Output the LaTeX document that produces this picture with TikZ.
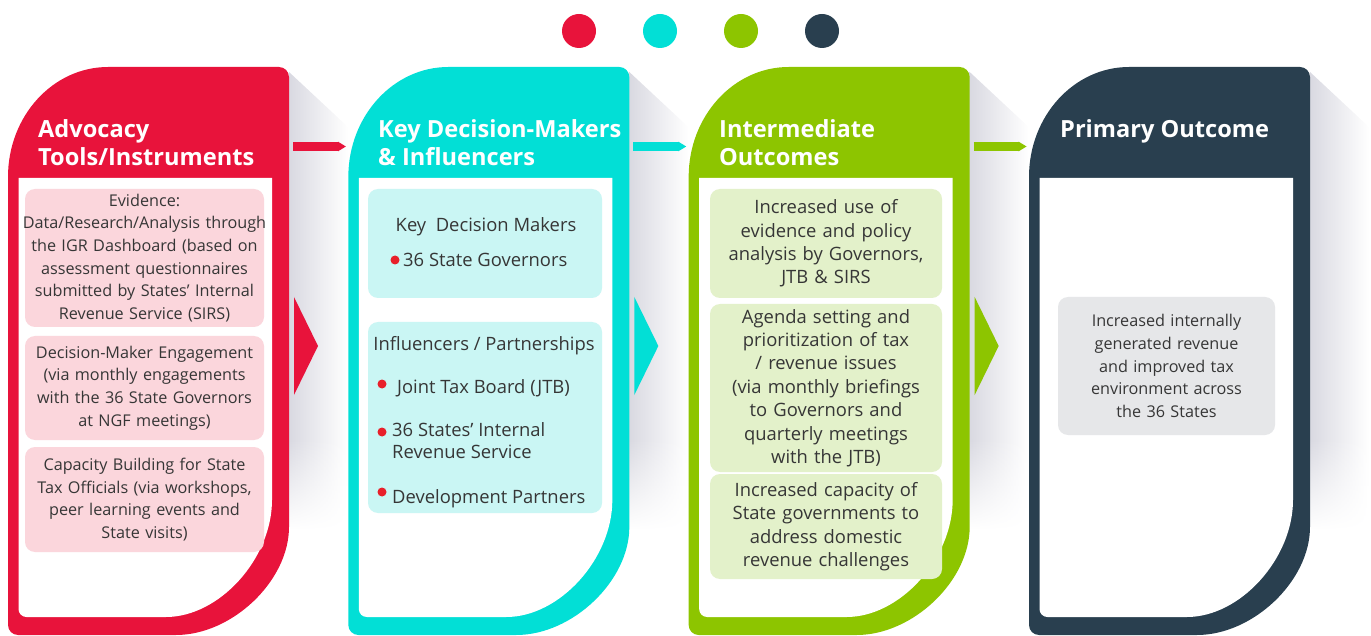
\documentclass[tikz,border=0pt]{standalone}
\usepackage{fontspec}
\setmainfont{Open Sans}
\usetikzlibrary{arrows.meta,fadings}

\definecolor{advred}{HTML}{E8133B}
\definecolor{advcyan}{HTML}{02DFD6}
\definecolor{advgreen}{HTML}{8DC500}
\definecolor{advnavy}{HTML}{293F4F}
\definecolor{cardpink}{HTML}{FBD6DC}
\definecolor{cardcyan}{HTML}{CAF6F4}
\definecolor{cardgreen}{HTML}{E3F1CA}
\definecolor{cardgray}{HTML}{E6E7E9}
\definecolor{txtgray}{HTML}{363636}
\definecolor{bulletred}{HTML}{E8202A}
\definecolor{shadowgray}{HTML}{D9D9E1}

\newcommand{\bodyfont}{\fontsize{16.2}{22.6}\selectfont}
\newcommand{\largefont}{\fontsize{18.4}{23.4}\selectfont}
\newcommand{\headfont}{\fontsize{23.6}{28}\selectfont\bfseries}

\tikzset{
  heading/.style={anchor=north west,inner sep=0pt,align=left,text=white,font=\headfont},
  card/.style={rounded corners=10pt,inner sep=0pt,align=center,text=txtgray,font=\bodyfont},
  cardA/.style={card,fill=cardpink,minimum width=239pt,text width=237pt},
  cardB/.style={card,fill=cardcyan,minimum width=234pt,text width=232pt},
  cardC/.style={card,fill=cardgreen,minimum width=232pt,text width=230pt,font=\largefont},
  cardD/.style={card,fill=cardgray,minimum width=217pt,text width=215pt},
  item/.style={anchor=base west,inner sep=0pt,align=left,text=txtgray,font=\fontsize{18.4}{21.5}\selectfont},
  bar/.style={line width=9pt,-{Triangle[length=8pt,width=9pt]}},
}

\begin{document}
\begin{tikzpicture}[x=1pt,y=-1pt]
  \useasboundingbox (0,0) rectangle (1371,636);
  % colour key on top
  \foreach \c [count=\k from 0] in {advred,advcyan,advgreen,advnavy}
    \fill[\c] ({579+81*\k},31) circle (17pt);
  % four panels with their shadows
  \foreach \c [count=\k from 0] in {advred,advcyan,advgreen,advnavy} {
    \begin{scope}[xshift={8pt+340.33pt*\k}]
      \shade[left color=shadowgray,right color=white] (281,72) -- (340,127) -- (340,440) -- (281,440) -- cycle;
      \shade[left color=shadowgray,right color=white,path fading=south] (281,440) -- (340,440) -- (340,530) -- (281,530) -- cycle;
      \fill[\c] (0,177) .. controls (0,116) and (45,67) .. (100,67) -- (271,67)
        .. controls (276.5,67) and (281,71.5) .. (281,77) -- (281,527)
        .. controls (281,581) and (224,635) .. (168,635) -- (10,635)
        .. controls (4.5,635) and (0,630.5) .. (0,625) -- cycle;
      \fill[white] (10.5,178) -- (264,178) -- (264,500)
        .. controls (264,559) and (211,617) .. (158,617) -- (18.5,617)
        .. controls (14,617) and (10.5,613.5) .. (10.5,609) -- cycle;
    \end{scope}
  }
  % connectors between panels
  \foreach \c [count=\k from 0] in {advred,advcyan,advgreen} {
    \coordinate (from\k) at ({293+340.33*\k},146.5);
    \coordinate (to\k) at ({346+340.33*\k},146.5);
    \draw[bar,\c] (from\k) -- (to\k);
    \fill[\c] ({294+340.33*\k},297) -- ({318+340.33*\k},346) -- ({294+340.33*\k},395) -- cycle;
  }

  % headings
  \node[heading] (headA) at (38,119) {Advocacy\\Tools/Instruments};
  \node[heading] (headB) at (378,119) {Key Decision-Makers\\\& Influencers};
  \node[heading] (headC) at (719,119) {Intermediate\\Outcomes};
  \node[heading] (headD) at (1060,119) {Primary Outcome};

  % advocacy tools
  \node[cardA,minimum height=138pt] (evidence) at (144.5,258) {Evidence:\\\makebox[\linewidth]{Data/Research/Analysis through}\\the IGR Dashboard (based on\\assessment questionnaires\\submitted by States’ Internal\\Revenue Service (SIRS)};
  \node[cardA,minimum height=104pt] (engagement) at (144.5,388) {Decision-Maker Engagement\\(via monthly engagements\\with the 36 State Governors\\at NGF meetings)};
  \node[cardA,minimum height=105pt] (building) at (144.5,499.5) {Capacity Building for State\\Tax Officials (via workshops,\\peer learning events and\\State visits)};

  % decision makers and influencers
  \node[cardB,minimum height=109pt] (makers) at (485,243.5) {};
  \node[cardB,minimum height=191pt] (influencers) at (485,417.5) {};
  \node[item,anchor=base] (makershead) at (486,232) {Key\ \ Decision Makers};
  \node[item] (governors) at (403,267) {36 State Governors};
  \node[item,anchor=base] (inflhead) at (484,350) {Influencers / Partnerships};
  \node[item] (jtb) at (397,393) {Joint Tax Board (JTB)};
  \node[item] (sirs) at (392,458) {36 States’ Internal\\Revenue Service};
  \node[item] (partners) at (392,503) {Development Partners};
  \foreach \p in {(395,260),(382,384),(382,432),(382,492)}
    \fill[bulletred] \p circle (4.5pt);

  % intermediate outcomes
  \node[cardC,minimum height=109pt] (evidenceuse) at (826,243.5) {Increased use of\\evidence and policy\\analysis by Governors,\\JTB \& SIRS};
  \node[cardC,minimum height=168pt] (agenda) at (826,388) {Agenda setting and\\prioritization of tax\\/ revenue issues\\(via monthly briefings\\to Governors and\\quarterly meetings\\with the JTB)};
  \node[cardC,minimum height=105pt] (capacity) at (826,526.5) {Increased capacity of\\State governments to\\address domestic\\revenue challenges};

  % primary outcome
  \node[cardD,minimum height=138pt] (revenue) at (1166.5,366) {Increased internally\\generated revenue\\and improved tax\\environment across\\the 36 States};
\end{tikzpicture}
\end{document}
